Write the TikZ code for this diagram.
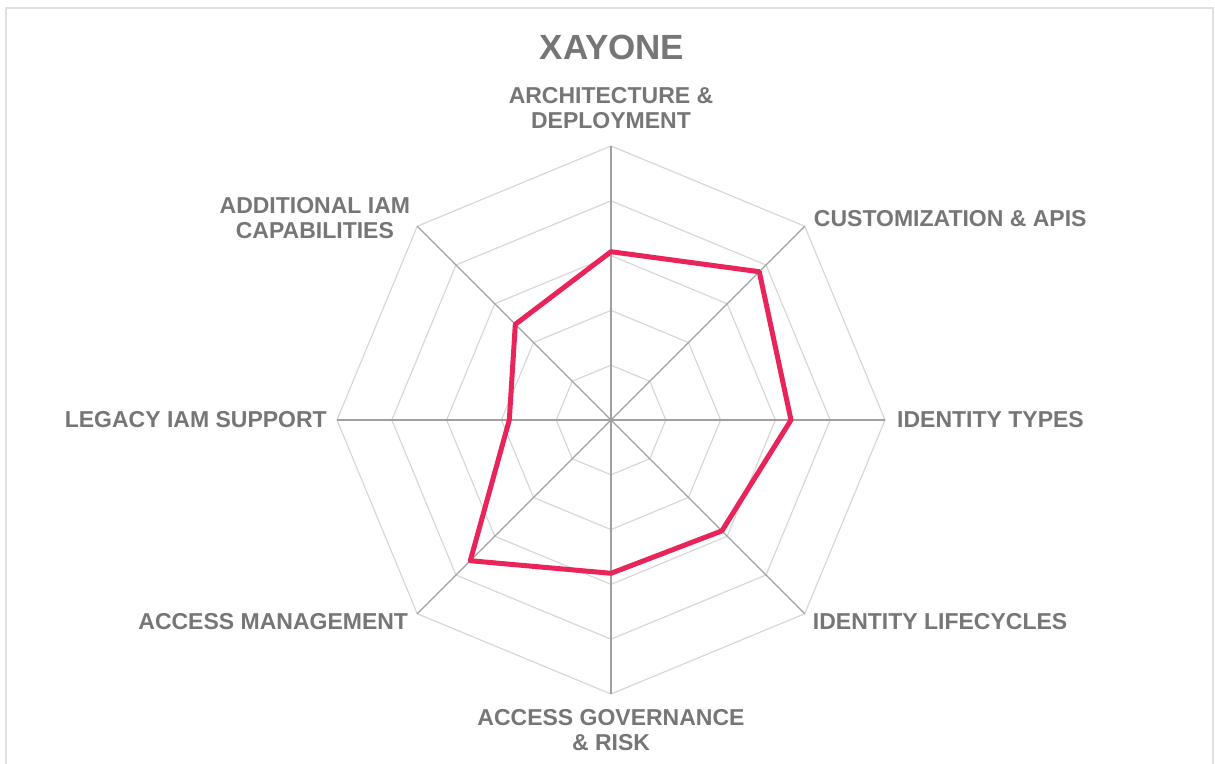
\documentclass[tikz,border=0pt]{standalone}
\usepackage{fontspec}
\setmainfont{Liberation Sans}
\usetikzlibrary{positioning}
\definecolor{gridgray}{RGB}{215,215,215}
\definecolor{spokegray}{RGB}{160,160,160}
\definecolor{labelgray}{RGB}{118,118,118}
\definecolor{scorered}{RGB}{232,36,90}

\begin{document}
\begin{tikzpicture}[
          x=1pt, y=1pt,
          ring/.style={draw=gridgray, line width=1.2pt},
          spoke/.style={draw=spokegray, line width=1.2pt},
          score/.style={draw=scorered, line width=5pt, line join=round},
          axislabel/.style={text=labelgray, font=\fontsize{23}{25}\selectfont\bfseries, inner sep=0pt, align=center},
          frame/.style={draw=black!12, line width=2pt}
        ]
        \useasboundingbox (-611,-343) rectangle (604,420);
        \draw[frame] (-605,-350) -- (-605,412) -- (602,412) -- (602,-350);
        \coordinate (c) at (0,0);
        % rings
        \foreach \r in {1,...,5}
          \draw[ring] (0:\r*54.8) \foreach \a in {45,90,...,315} { -- (\a:\r*54.8) } -- cycle;
        % spokes
        \foreach \a/\n in {90/arch,45/cust,0/types,-45/life,-90/gov,-135/mgmt,180/legacy,135/addl} {
          \coordinate (\n) at (\a:274);
          \draw[spoke] (c) -- (\n);
        }
        % scores
        \foreach \a/\v [count=\i] in {90/168.3,45/209.7,0/180,-45/156.8,-90/153.3,-135/199,180/101.7,135/135.3}
          \coordinate (s\i) at (\a:\v);
        \draw[score] (s1) -- (s2) -- (s3) -- (s4) -- (s5) -- (s6) -- (s7) -- (s8) -- cycle;

        \node[axislabel, font=\fontsize{35}{38}\selectfont\bfseries, anchor=base] (title) at (1,360) {XAYONE};
        \node[axislabel, above=17.5pt of arch] (archlbl) {ARCHITECTURE \&\\DEPLOYMENT};
        \node[axislabel, anchor=base west, xshift=9pt] (custlbl) at (cust) {CUSTOMIZATION \& APIS};
        \node[axislabel, right=12pt of types] (typeslbl) {IDENTITY TYPES};
        \node[axislabel, anchor=base west, xshift=8pt, yshift=-15.5pt] (lifelbl) at (life) {IDENTITY LIFECYCLES};
        \node[axislabel, below=15pt of gov] (govlbl) {ACCESS GOVERNANCE\\\& RISK};
        \node[axislabel, anchor=base east, xshift=-9pt, yshift=-15.5pt] (mgmtlbl) at (mgmt) {ACCESS MANAGEMENT};
        \node[axislabel, left=10pt of legacy] (legacylbl) {LEGACY IAM SUPPORT};
        \node[axislabel, anchor=south east, xshift=-7pt, yshift=-13pt] (addllbl) at (addl) {ADDITIONAL IAM\\CAPABILITIES};
\end{tikzpicture}
\end{document}
